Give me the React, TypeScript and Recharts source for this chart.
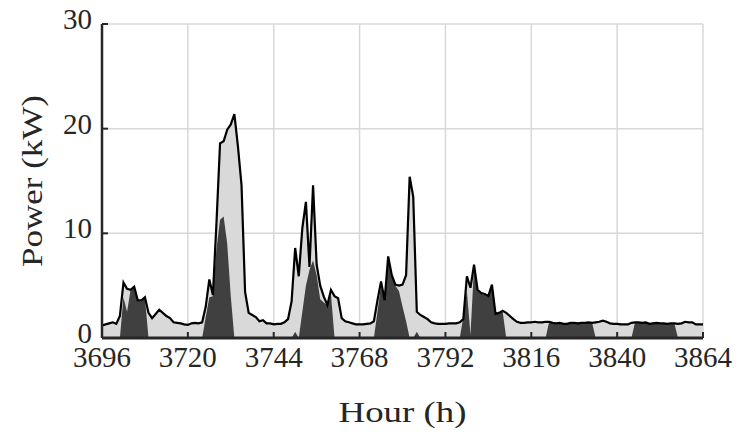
import React from 'react';
import { Area, CartesianGrid, ComposedChart, Line, XAxis, YAxis } from 'recharts';

// hourly power, kW (3696 .. 3864 h)
const total = [
    // 3696-3719
    1.2, 1.3, 1.4, 1.5, 1.35, 2.1, 5.3, 4.7, 4.6, 4.9, 3.6, 3.6, 3.9, 2.4, 1.9, 2.3, 2.7, 2.4, 2.1, 1.9, 1.5, 1.45, 1.4, 1.3,
    // 3720-3743
    1.25, 1.4, 1.45, 1.4, 1.5, 3.0, 5.6, 4.1, 11.0, 18.6, 18.8, 19.9, 20.4, 21.4, 18.3, 14.6, 4.4, 2.4, 2.2, 2.0, 1.6, 1.7, 1.4, 1.4,
    // 3744-3767
    1.3, 1.35, 1.35, 1.5, 1.8, 3.5, 8.6, 5.9, 10.5, 13.0, 6.8, 14.6, 7.0, 5.0, 3.95, 3.15, 4.6, 4.0, 3.8, 1.9, 1.6, 1.5, 1.4, 1.3,
    // 3768-3791
    1.3, 1.3, 1.35, 1.4, 1.6, 3.6, 5.4, 3.6, 7.8, 6.0, 5.1, 5.0, 5.1, 6.0, 15.4, 13.5, 2.5, 2.2, 2.0, 1.8, 1.5, 1.4, 1.35, 1.35,
    // 3792-3815
    1.35, 1.4, 1.4, 1.4, 1.5, 1.8, 5.9, 4.8, 7.0, 4.6, 4.3, 4.2, 4.0, 5.1, 2.3, 2.4, 2.6, 2.4, 2.1, 1.8, 1.55, 1.45, 1.45, 1.5,
    // 3816-3839
    1.5, 1.55, 1.5, 1.5, 1.55, 1.55, 1.45, 1.4, 1.45, 1.35, 1.35, 1.45, 1.45, 1.4, 1.45, 1.45, 1.5, 1.45, 1.5, 1.55, 1.65, 1.55, 1.4, 1.35,
    // 3840-3864
    1.35, 1.3, 1.3, 1.3, 1.45, 1.5, 1.5, 1.45, 1.5, 1.35, 1.4, 1.45, 1.4, 1.4, 1.35, 1.4, 1.4, 1.35, 1.4, 1.55, 1.5, 1.5, 1.3, 1.3, 1.3,
];

const dark = [
    // 3696-3719
    0, 0, 0, 0, 0, 0, 3.9, 2.5, 4.6, 4.9, 3.5, 3.5, 3.8, 0, 0, 0, 0, 0, 0, 0, 0, 0, 0, 0,
    // 3720-3743
    0, 0, 0, 0, 0, 2.0, 3.9, 4.0, 8.5, 11.3, 11.6, 9.0, 4.0, 0, 0, 0, 0, 0, 0, 0, 0, 0, 0, 0,
    // 3744-3767
    0, 0, 0, 0, 0, 0, 0.6, 0, 2.5, 5.0, 6.5, 7.4, 6.0, 3.7, 3.4, 3.1, 4.2, 0, 0, 0, 0, 0, 0, 0,
    // 3768-3791
    0, 0, 0, 0, 0, 2.5, 5.0, 3.5, 7.7, 6.0, 5.0, 4.5, 3.0, 1.6, 0, 0, 0.6, 0, 0, 0, 0, 0, 0, 0,
    // 3792-3815
    0, 0, 0, 0, 0, 2.0, 4.5, 0.3, 6.8, 4.5, 4.2, 4.1, 3.9, 5.0, 2.3, 2.4, 2.5, 0, 0, 0, 0, 0, 0, 0,
    // 3816-3839
    0, 0, 0, 0, 0, 1.55, 1.45, 1.4, 1.45, 1.35, 1.35, 1.45, 1.45, 1.4, 1.45, 1.45, 1.5, 1.45, 0, 0, 0, 0, 0, 0,
    // 3840-3864
    0, 0, 0, 0, 0, 1.5, 1.5, 1.45, 1.5, 1.35, 1.4, 1.45, 1.4, 1.4, 1.35, 1.4, 1.4, 0, 0, 0, 0, 0, 0, 0, 0,
];

const START_HOUR = 3696;
const xTicks = [3696, 3720, 3744, 3768, 3792, 3816, 3840, 3864];
const yTicks = [0, 10, 20, 30];

const data = total.map((v, i) => ({ hour: START_HOUR + i, total: v, dark: dark[i] }));

const AX = '#262626';
const FONT = '"Liberation Serif", "Times New Roman", serif';

const BottomTick = ({ x, y, payload }: any) => (
    <g>
        <line x1={x} y1={y} x2={x} y2={y - 6} stroke={AX} strokeWidth={2} />
        <text x={x} y={y + 29} textAnchor="middle" fontFamily={FONT} fontSize={29} fill={AX}>
            {payload.value}
        </text>
    </g>
);

const TopTick = ({ x, y }: any) => <line x1={x} y1={y} x2={x} y2={y + 6} stroke={AX} strokeWidth={2} />;

const LeftTick = ({ x, y, payload }: any) => (
    <g>
        <line x1={x} y1={y} x2={x + 6} y2={y} stroke={AX} strokeWidth={2} />
        <text x={x - 10} y={y + 5} textAnchor="end" fontFamily={FONT} fontSize={29} fill={AX}>
            {payload.value}
        </text>
    </g>
);

const RightTick = ({ x, y }: any) => <line x1={x} y1={y} x2={x - 6} y2={y} stroke={AX} strokeWidth={2} />;

export default function App() {
    return (
        <div style={{ position: 'absolute', left: 0, top: 0, width: 738, height: 434, background: '#fff' }}>
            <ComposedChart width={738} height={434} data={data} margin={{ top: 24, right: 35, bottom: 36, left: 42 }}>
                <CartesianGrid stroke="#d8d8d8" strokeWidth={1.5} />
                <Area
                    type="linear"
                    dataKey="total"
                    stroke="none"
                    fill="#d9d9d9"
                    fillOpacity={1}
                    isAnimationActive={false}
                />
                <Area
                    type="linear"
                    dataKey="dark"
                    stroke="none"
                    fill="#404040"
                    fillOpacity={1}
                    isAnimationActive={false}
                />
                <Line
                    type="linear"
                    dataKey="total"
                    stroke="#000"
                    strokeWidth={2.2}
                    dot={false}
                    isAnimationActive={false}
                />
                <XAxis
                    dataKey="hour"
                    type="number"
                    domain={[3696, 3864]}
                    ticks={xTicks}
                    interval={0}
                    height={60}
                    tickSize={0}
                    tickMargin={0}
                    tickLine={false}
                    tick={<BottomTick />}
                    axisLine={{ stroke: AX, strokeWidth: 3 }}
                    label={{
                        content: ({ viewBox }: any) => (
                            <text
                                x={viewBox.x + viewBox.width / 2}
                                y={422}
                                textAnchor="middle"
                                fontFamily={FONT}
                                fontSize={30}
                                fill={AX}
                                textLength={128}
                                lengthAdjust="spacingAndGlyphs"
                            >
                                Hour (h)
                            </text>
                        ),
                    }}
                />
                <XAxis
                    xAxisId="top"
                    orientation="top"
                    dataKey="hour"
                    type="number"
                    domain={[3696, 3864]}
                    ticks={xTicks}
                    interval={0}
                    height={0}
                    tickSize={0}
                    tickMargin={0}
                    tickLine={false}
                    tick={<TopTick />}
                    axisLine={{ stroke: AX, strokeWidth: 2 }}
                />
                <YAxis
                    type="number"
                    domain={[0, 30]}
                    ticks={yTicks}
                    interval={0}
                    width={60}
                    tickSize={0}
                    tickMargin={0}
                    tickLine={false}
                    tick={<LeftTick />}
                    axisLine={{ stroke: AX, strokeWidth: 2.5 }}
                    label={{
                        content: () => (
                            <text
                                x={42}
                                y={181}
                                transform="rotate(-90, 42, 181)"
                                textAnchor="middle"
                                fontFamily={FONT}
                                fontSize={30}
                                fill={AX}
                                textLength={172}
                                lengthAdjust="spacingAndGlyphs"
                            >
                                Power (kW)
                            </text>
                        ),
                    }}
                />
                <YAxis
                    yAxisId="right"
                    orientation="right"
                    type="number"
                    domain={[0, 30]}
                    ticks={yTicks}
                    interval={0}
                    width={0}
                    tickSize={0}
                    tickMargin={0}
                    tickLine={false}
                    tick={<RightTick />}
                    axisLine={{ stroke: AX, strokeWidth: 2 }}
                />
            </ComposedChart>
        </div>
    );
}
